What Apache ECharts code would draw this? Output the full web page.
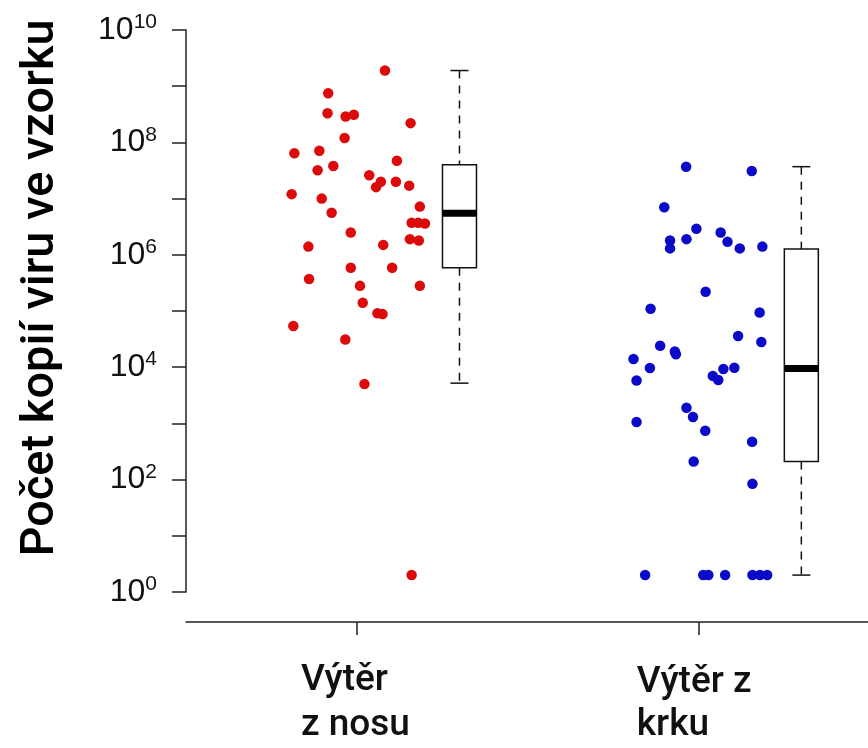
<!DOCTYPE html>
<html>
<head>
<meta charset="utf-8">
<script src="https://cdn.jsdelivr.net/npm/echarts@6/dist/echarts.min.js"></script>
<style>
  html, body { margin: 0; padding: 0; background: #fff; }
  #chart { width: 868px; height: 748px; }
</style>
</head>
<body>
<div id="chart"></div>
<script>
/* data */
const groups = ['Výtěr\nz nosu', 'Výtěr z\nkrku'];
const groupPos = [1, 2];
const boxPos = [1.3, 2.3];

// nasal swab: jittered x position, copies per sample
const noseJitter = [1.082, 0.916, 0.914, 0.967, 0.991, 1.157, 0.964, 0.817, 0.890, 0.885,
  0.931, 1.117, 1.036, 1.070, 1.056, 1.114, 1.153, 0.809, 0.897, 0.926,
  1.184, 1.160, 1.179, 1.199, 0.982, 0.858, 1.077, 1.155, 1.181, 0.982,
  1.103, 0.860, 1.184, 1.009, 1.017, 1.060, 1.075, 0.814, 0.966, 1.022, 1.160];
const noseCopies = [1.9e9, 7.5e8, 3.3e8, 2.9e8, 3.1e8, 2.2e8, 1.2e8, 6.4e7, 7.1e7, 3.2e7,
  3.8e7, 4.7e7, 2.6e7, 2.0e7, 1.6e7, 2.0e7, 1.7e7, 1.2e7, 1.0e7, 5.6e6,
  7.2e6, 3.7e6, 3.7e6, 3.6e6, 2.5e6, 1.4e6, 1.5e6, 1.9e6, 1.8e6, 5.9e5,
  5.9e5, 3.7e5, 2.8e5, 2.8e5, 1.4e5, 9.1e4, 8.8e4, 5.4e4, 3.1e4, 5.0e3, 2];

// throat swab
const throatJitter = [1.963, 2.155, 1.899, 1.993, 2.064, 1.916, 1.916, 1.964, 2.084, 2.120,
  2.186, 2.020, 1.859, 2.178, 2.115, 2.183, 1.887, 1.930, 1.933, 1.809,
  1.857, 1.818, 2.041, 2.057, 2.072, 2.104, 1.964, 1.983, 1.818, 2.019,
  2.156, 1.985, 2.157, 1.843, 2.013, 2.028, 2.077, 2.157, 2.179, 2.200];
const throatCopies = [3.7e7, 3.1e7, 7.0e6, 2.9e6, 2.5e6, 1.8e6, 1.3e6, 1.9e6, 1.7e6, 1.3e6,
  1.4e6, 2.2e5, 1.1e5, 9.4e4, 3.6e4, 2.8e4, 2.4e4, 1.9e4, 1.7e4, 1.4e4,
  9.7e3, 5.8e3, 7.0e3, 5.9e3, 9.3e3, 9.8e3, 1.9e3, 1.3e3, 1.06e3, 7.4e2,
  4.7e2, 2.1e2, 84, 2, 2, 2, 2, 2, 2, 2];

// box stats: low whisker, Q1, median, Q3, high whisker
const noseBox = [5.2e3, 5.9e5, 5.5e6, 4.0e7, 1.9e9];
const throatBox = [2, 2.1e2, 9.5e3, 1.27e6, 3.7e7];

const yMin = 1;
const yMax = 1e10;
const yTitle = 'Počet kopií viru ve vzorku';

const chart = echarts.init(document.getElementById('chart'));

const pairs = (xs, ys) => xs.map((x, i) => [x, ys[i]]);

const renderBox = (params, api) => {
  const x = api.value(0);
  const lo = api.coord([x, api.value(1)]);
  const q1 = api.coord([x, api.value(2)]);
  const md = api.coord([x, api.value(3)]);
  const q3 = api.coord([x, api.value(4)]);
  const hi = api.coord([x, api.value(5)]);
  const cx = md[0];
  const bw = 34;
  const cw = 18;
  const dashed = { stroke: '#111', lineWidth: 1.5, lineDash: [8, 7] };
  const solid = { stroke: '#111', lineWidth: 1.5 };
  return {
    type: 'group',
    children: [
      { type: 'line', shape: { x1: cx, y1: hi[1], x2: cx, y2: q3[1] }, style: dashed },
      { type: 'line', shape: { x1: cx, y1: q1[1], x2: cx, y2: lo[1] }, style: dashed },
      { type: 'line', shape: { x1: cx - cw / 2, y1: hi[1], x2: cx + cw / 2, y2: hi[1] }, style: solid },
      { type: 'line', shape: { x1: cx - cw / 2, y1: lo[1], x2: cx + cw / 2, y2: lo[1] }, style: solid },
      { type: 'rect', shape: { x: cx - bw / 2, y: q3[1], width: bw, height: q1[1] - q3[1] },
        style: { fill: '#fff', stroke: '#111', lineWidth: 1.5 } },
      { type: 'rect', shape: { x: cx - bw / 2, y: md[1] - 3.5, width: bw, height: 7 },
        style: { fill: '#000' } },
    ],
  };
};

const labelFont = { fontFamily: 'Roboto', fontSize: 37, fontWeight: 500, lineHeight: 45, color: '#111', align: 'left' };

const option = {
  animation: false,
  backgroundColor: '#fff',
  grid: { left: 186, right: 0, top: 30, bottom: 156 },
  xAxis: {
    type: 'value',
    min: 0.5,
    max: 2.495,
    offset: 30,
    splitLine: { show: false },
    axisLine: { onZero: false, lineStyle: { color: '#222', width: 1.5 } },
    axisTick: { customValues: groupPos, length: 13, lineStyle: { color: '#222', width: 1.5 } },
    axisLabel: {
      customValues: groupPos,
      margin: 36,
      formatter: v => {
        const lines = groups[groupPos.indexOf(v)].split('\n');
        return v === 1
          ? `{a|${lines[0]}}\n{a|${lines[1]}}`
          : `{c|${lines[0]}}\n{b|${lines[1]}}`;
      },
      rich: {
        a: { ...labelFont, width: 112 },
        b: { ...labelFont, width: 124 },
        c: { ...labelFont, width: 124, padding: [5, 0, 0, 0] },
      },
    },
  },
  yAxis: {
    type: 'log',
    logBase: 10,
    min: yMin,
    max: yMax,
    interval: 1,
    splitLine: { show: false },
    axisLine: { show: true, onZero: false, lineStyle: { color: '#222', width: 1.5 } },
    axisTick: { show: true, length: 14, lineStyle: { color: '#222', width: 1.5 } },
    axisLabel: {
      margin: 29,
      formatter: v => {
        const e = Math.round(Math.log10(v));
        return e % 2 === 0 ? `{b|10}{s|${e}}` : '';
      },
      rich: {
        b: { fontFamily: 'Liberation Sans', fontSize: 32, lineHeight: 36, color: '#111' },
        s: { fontFamily: 'Liberation Sans', fontSize: 21, lineHeight: 21, color: '#111', padding: [0, 0, 15, 0] },
      },
    },
  },
  graphic: [
    {
      type: 'text',
      x: 41,
      y: 288,
      rotation: Math.PI / 2,
      style: {
        text: yTitle,
        fontFamily: 'Roboto',
        fontWeight: 500,
        fontSize: 47,
        fill: '#000',
        textAlign: 'center',
        textVerticalAlign: 'middle',
        verticalAlign: 'middle',
      },
    },
  ],
  series: [
    {
      name: 'nose',
      type: 'scatter',
      symbolSize: 10.5,
      itemStyle: { color: '#dc0a0a', opacity: 1 },
      data: pairs(noseJitter, noseCopies),
    },
    {
      name: 'throat',
      type: 'scatter',
      symbolSize: 10.5,
      itemStyle: { color: '#0a0ac8', opacity: 1 },
      data: pairs(throatJitter, throatCopies),
    },
    {
      name: 'boxes',
      type: 'custom',
      renderItem: renderBox,
      encode: { x: 0, y: [1, 2, 3, 4, 5] },
      data: [[boxPos[0], ...noseBox], [boxPos[1], ...throatBox]],
    },
  ],
};

chart.setOption(option);
</script>
</body>
</html>
